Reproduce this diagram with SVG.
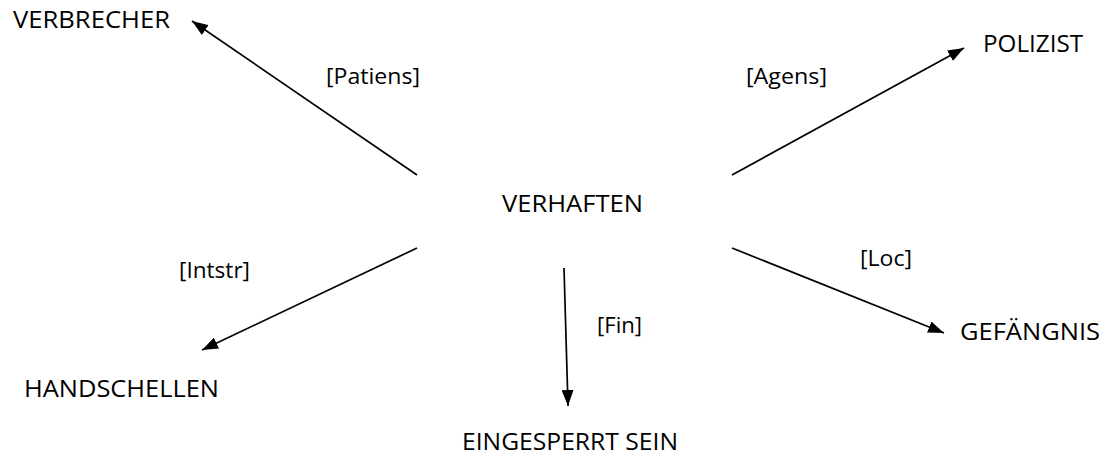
<svg xmlns="http://www.w3.org/2000/svg" width="1107" height="456" viewBox="0 0 1107 456">
<style>
.n{font-family:"Open Sans","Liberation Sans",sans-serif;font-size:23px;fill:#000}
.l{font-family:"Open Sans","Liberation Sans",sans-serif;font-size:21px;fill:#000}
.c{stroke:#000;stroke-width:1.7;fill:none;marker-end:url(#ah)}
</style>
<defs>
<marker id="ah" viewBox="0 0 16 12" refX="16" refY="6" markerWidth="16" markerHeight="12" markerUnits="userSpaceOnUse" orient="auto">
<path d="M0,0 L16,6 L0,12 Z" fill="#000"/>
</marker>
</defs>
<rect width="1107" height="456" fill="#fff"/>
<g id="connectors">
<line class="c" x1="417" y1="175" x2="192" y2="21"/>
<line class="c" x1="732" y1="175" x2="964" y2="48"/>
<line class="c" x1="417" y1="248" x2="202" y2="350"/>
<line class="c" x1="564" y1="268" x2="568" y2="406"/>
<line class="c" x1="732" y1="248" x2="944" y2="333"/>
</g>
<g id="edge-labels">
<text class="l" x="326" y="84" textLength="94" lengthAdjust="spacingAndGlyphs">[Patiens]</text>
<text class="l" x="746" y="84" textLength="81" lengthAdjust="spacingAndGlyphs">[Agens]</text>
<text class="l" x="179" y="278" textLength="71" lengthAdjust="spacingAndGlyphs">[Intstr]</text>
<text class="l" x="597" y="333" textLength="45" lengthAdjust="spacingAndGlyphs">[Fin]</text>
<text class="l" x="860" y="266" textLength="52" lengthAdjust="spacingAndGlyphs">[Loc]</text>
</g>
<g id="node-verhaften"><text class="n" x="502" y="212" textLength="141" lengthAdjust="spacingAndGlyphs">VERHAFTEN</text></g>
<g id="node-verbrecher"><text class="n" x="13" y="28" textLength="157" lengthAdjust="spacingAndGlyphs">VERBRECHER</text></g>
<g id="node-polizist"><text class="n" x="983" y="52" textLength="100" lengthAdjust="spacingAndGlyphs">POLIZIST</text></g>
<g id="node-handschellen"><text class="n" x="24" y="397" textLength="195" lengthAdjust="spacingAndGlyphs">HANDSCHELLEN</text></g>
<g id="node-eingesperrt"><text class="n" x="462" y="450" textLength="216" lengthAdjust="spacingAndGlyphs">EINGESPERRT SEIN</text></g>
<g id="node-gefaengnis"><text class="n" x="960" y="340" textLength="140" lengthAdjust="spacingAndGlyphs">GEFÄNGNIS</text></g>
</svg>
